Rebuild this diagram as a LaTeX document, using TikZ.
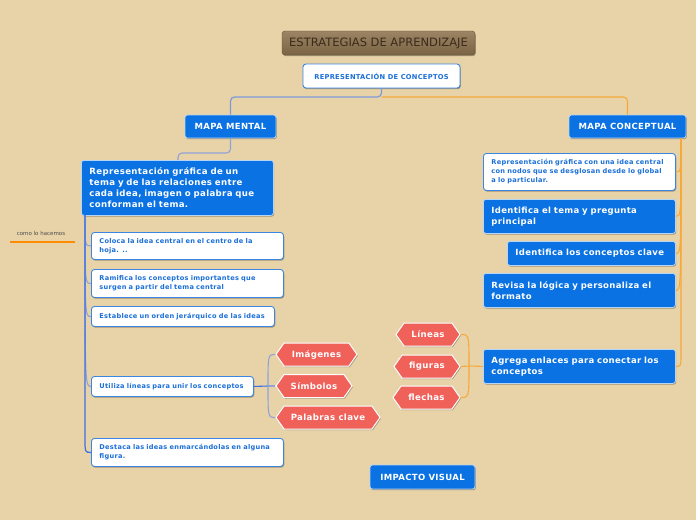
\documentclass[tikz,border=0pt]{standalone}
\usepackage{fontspec}
\setmainfont{DejaVu Sans}[BoldFeatures={LetterSpace=4}]
\usetikzlibrary{shapes.symbols,shadows,calc}
\definecolor{bg}{HTML}{E8D3A8}
\definecolor{nodeblue}{HTML}{0A72E3}
\definecolor{textblue}{HTML}{1A6FD8}
\definecolor{borderblue}{HTML}{3A86E0}
\definecolor{hexred}{HTML}{F0615A}
\definecolor{orangeline}{HTML}{F6A93A}
\definecolor{mmline}{HTML}{8FA3D8}
\definecolor{mmmain}{HTML}{3C6FE6}
\definecolor{titletop}{HTML}{9C8464}
\definecolor{titlebot}{HTML}{7A6444}
\definecolor{titletext}{HTML}{3A2B1B}
\tikzset{
  shad/.style={drop shadow={shadow xshift=0.8pt,shadow yshift=-1.2pt,opacity=0.3,fill=black}},
  bluebox/.style={shad,draw=white!70!nodeblue,line width=0.8pt,fill=nodeblue,text=white,rounded corners=2.5pt},
  whitebox/.style={shad,draw=borderblue,line width=0.9pt,fill=white,text=textblue,rounded corners=3pt},
  leftbox/.style={anchor=north west,align=left,inner xsep=8pt,inner ysep=0pt},
  hexnode/.style={shad,signal,signal to=west and east,signal pointer angle=110,fill=hexred,draw=white,line width=1pt,text=white,font=\bfseries\fontsize{8.6}{10}\selectfont,minimum height=23pt,inner xsep=2pt,inner ysep=0pt},
  olink/.style={draw=orangeline,line width=1.1pt},
  mlink/.style={draw=mmline,line width=1.1pt},
  mmain/.style={draw=mmmain,line width=1.2pt},
  blink/.style={draw=mmline!80!mmmain,line width=1.2pt},
  smallfont/.style={font=\bfseries\fontsize{6.6}{9}\selectfont},
  midfont/.style={font=\bfseries\fontsize{8.5}{11}\selectfont},
  capfont/.style={font=\bfseries\fontsize{8.5}{10}\selectfont}
}
\begin{document}
\begin{tikzpicture}[x=1pt,y=-1pt]
\fill[bg] (0,0) rectangle (696,520);
\useasboundingbox (0,0) rectangle (696,520);

% title
\node[shad,draw=titlebot!80!black,line width=0.4pt,top color=titletop,bottom color=titlebot,text=titletext,rounded corners=3pt,minimum width=193pt,minimum height=24pt,inner sep=0pt,font=\fontsize{11.5}{13}\selectfont] (title) at (378.5,43) {ESTRATEGIAS DE APRENDIZAJE};

\node[whitebox,minimum width=157pt,minimum height=24pt,inner sep=0pt,font=\bfseries\fontsize{6.7}{8}\selectfont] (rep) at (381.5,76) {REPRESENTACIÓN DE CONCEPTOS};

\node[bluebox,capfont,minimum width=91pt,minimum height=23pt,inner sep=0pt] (mm) at (230.5,126.5) {MAPA MENTAL};
\node[bluebox,capfont,minimum width=117pt,minimum height=23pt,inner sep=0pt] (mc) at (627.5,126.5) {MAPA CONCEPTUAL};

% connectors from rep
\coordinate (repj) at (381.5,97);
\draw[blink,rounded corners=4pt] (rep.south) -- (repj) -| (mm.north);
\draw[olink,rounded corners=4pt] (repj) -| (mc.north);

% mapa mental branch
\node[bluebox,leftbox,text width=176pt,minimum height=55pt,font=\bfseries\fontsize{8.6}{11}\selectfont] (rg) at (81,160) {Representación gráfica de un\\tema y de las relaciones entre\\cada idea, imagen o palabra que\\conforman el tema.};
\draw[mlink,rounded corners=4pt] (mm.south) -- (230.5,153) -| (178,160);

\node[whitebox,leftbox,smallfont,text width=176pt,minimum height=27pt] (c1) at (91,232) {Coloca la idea central en el centro de la\\hoja. ..};
\node[whitebox,leftbox,smallfont,text width=176pt,minimum height=28pt] (c2) at (91,269) {Ramifica los conceptos importantes que\\surgen a partir del tema central};
\node[whitebox,leftbox,smallfont,text width=167pt,minimum height=20pt] (c3) at (91,306) {Establece un orden jerárquico de las ideas};
\node[whitebox,leftbox,smallfont,text width=146pt,minimum height=20pt] (c4) at (91,376) {Utiliza líneas para unir los conceptos};
\node[whitebox,leftbox,smallfont,text width=176pt,minimum height=28pt] (c5) at (91,438) {Destaca las ideas enmarcándolas en alguna\\figura.};

\coordinate (mroot) at (85,215);
\foreach \c in {c1,c2,c3,c4}{
  \draw[mlink] (mroot) .. controls (mroot |- \c.west) .. (\c.west);
}
\draw[mmain] (mroot) -- ($(mroot |- c5.west)+(0,-14)$) .. controls (mroot |- c5.west) .. (c5.west);

% hexagons for Utiliza
\node[hexnode,minimum width=81pt] (h1) at (316.5,354.5) {Imágenes};
\node[hexnode,minimum width=76pt] (h2) at (314,386) {Símbolos};
\node[hexnode,minimum width=104pt] (h3) at (328,417.5) {Palabras clave};
\coordinate (uj) at (268,386);
\draw[mmain,line width=1.1pt] (c4.east) -- (uj);
\draw[mlink] (uj) .. controls (uj |- h1.west) .. (h1.west);
\draw[mlink] (uj) -- (h2.west);
\draw[mlink] (uj) .. controls (uj |- h3.west) .. (h3.west);

% mapa conceptual branch
\node[whitebox,leftbox,smallfont,text width=176pt,minimum height=37pt] (k1) at (483,153) {Representación gráfica con una idea central\\con nodos que se desglosan desde lo global\\a lo particular.};
\node[bluebox,leftbox,midfont,text width=176pt,minimum height=34pt] (k2) at (483,199) {Identifica el tema y pregunta\\principal};
\node[bluebox,leftbox,midfont,text width=152pt,minimum height=24pt] (k3) at (507,241) {Identifica los conceptos clave};
\node[bluebox,leftbox,midfont,text width=176pt,minimum height=34pt] (k4) at (483,273) {Revisa la lógica y personaliza el\\formato};
\node[bluebox,leftbox,midfont,text width=176pt,minimum height=34pt] (k5) at (483,349) {Agrega enlaces para conectar los\\conceptos};

\coordinate (croot) at (681,138);
\foreach \c in {k1,k2,k3,k4}{
  \draw[olink] (croot) .. controls (croot |- \c.east) .. (\c.east);
}
\draw[olink] (croot) -- ($(croot |- k5.east)+(0,-14)$) .. controls (croot |- k5.east) .. (k5.east);

\node[hexnode,minimum width=64pt] (f1) at (428,334.5) {Líneas};
\node[hexnode,minimum width=66pt] (f2) at (427,366.5) {figuras};
\node[hexnode,minimum width=67pt] (f3) at (426.5,397.5) {flechas};
\coordinate (aj) at (469,366);
\draw[olink] (k5.west) -- (aj);
\draw[olink] (aj) .. controls (aj |- f1.east) .. (f1.east);
\draw[olink] (aj) -- (f2.east);
\draw[olink] (aj) .. controls (aj |- f3.east) .. (f3.east);

\node[bluebox,capfont,minimum width=105pt,minimum height=24pt,inner sep=0pt] (iv) at (422.5,477) {IMPACTO VISUAL};

% floating label
\node[text=black!70,font=\fontsize{5.5}{7}\selectfont,inner sep=0pt] (como) at (41,233) {como lo hacemos};
\coordinate (ol1) at (10,242);
\coordinate (ol2) at (75,242);
\draw[draw=orange!90!yellow,line width=2.6pt] (ol1) -- (ol2);
\end{tikzpicture}
\end{document}
